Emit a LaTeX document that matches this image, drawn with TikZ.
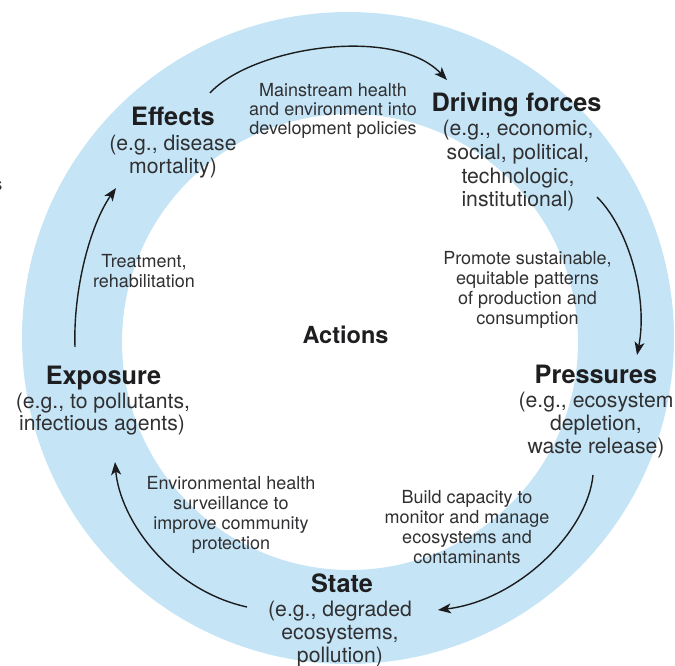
\documentclass[tikz,border=0pt]{standalone}
\usepackage{fontspec}
\setmainfont{TeX Gyre Heros}
\usetikzlibrary{arrows.meta}
\definecolor{ringblue}{RGB}{197,229,246}
\definecolor{titlecol}{RGB}{30,30,32}
\definecolor{textcol}{RGB}{48,48,50}
\definecolor{arrowcol}{RGB}{28,28,30}
\tikzset{
  titletxt/.style={font=\bfseries\fontsize{25.3}{28}\selectfont, text=titlecol, inner sep=0pt, anchor=base},
  desctxt/.style={font=\fontsize{21.2}{23}\selectfont, text=textcol, inner sep=0pt, anchor=base},
  acttxt/.style={font=\fontsize{18}{20}\selectfont, text=textcol, inner sep=0pt, anchor=base},
  cyclearrow/.style={draw=arrowcol, line width=1.4pt, -{Stealth[length=13pt,width=10pt,inset=3.5pt]}}
}
\begin{document}
\begin{tikzpicture}[x=1pt,y=-1pt]
\useasboundingbox (0,0) rectangle (675,666);
% ring
\fill[ringblue, even odd rule] (348,338) circle[radius=326pt] (350,342) circle[radius=228pt];

% stray fragment at left edge
\node[acttxt, anchor=base east] (frag) at (2.7,190) {s};

% Effects
\node[titletxt] (eff) at (173,126) {Effects};
\node[desctxt] (eff1) at (173,151) {(e.g., disease};
\node[desctxt] (eff2) at (173,174) {mortality)};

% Driving forces
\node[titletxt] (drv) at (516.5,112) {Driving forces};
\node[desctxt] (drv1) at (518,136) {(e.g., economic,};
\node[desctxt] (drv2) at (518,159.5) {social, political,};
\node[desctxt] (drv3) at (518,183) {technologic,};
\node[desctxt] (drv4) at (518,206) {institutional)};

% Pressures
\node[titletxt] (prs) at (596,383) {Pressures};
\node[desctxt] (prs1) at (596,407) {(e.g., ecosystem};
\node[desctxt] (prs2) at (596,430) {depletion,};
\node[desctxt] (prs3) at (596,453) {waste release)};

% State
\node[titletxt] (sta) at (342,592) {State};
\node[desctxt] (sta1) at (340,616) {(e.g., degraded};
\node[desctxt] (sta2) at (340,639) {ecosystems,};
\node[desctxt] (sta3) at (340,662) {pollution)};

% Exposure
\node[titletxt] (exp) at (103.5,384) {Exposure};
\node[desctxt] (exp1) at (103,408) {(e.g., to pollutants,};
\node[desctxt] (exp2) at (102,430) {infectious agents)};

% Actions
\node[titletxt, font=\bfseries\fontsize{23.5}{26}\selectfont] (act) at (345.5,343) {Actions};

% action labels
\node[acttxt] (ma1) at (333,96.5) {Mainstream health};
\node[acttxt] (ma2) at (333,116) {and environment into};
\node[acttxt] (ma3) at (333,135) {development policies};

\node[acttxt] (pr1) at (527.5,264) {Promote sustainable,};
\node[acttxt] (pr2) at (527.5,284) {equitable patterns};
\node[acttxt] (pr3) at (527.5,304) {of production and};
\node[acttxt] (pr4) at (527.5,324) {consumption};

\node[acttxt] (bu1) at (467,503.3) {Build capacity to};
\node[acttxt] (bu2) at (467,523) {monitor and manage};
\node[acttxt] (bu3) at (467,543) {ecosystems and};
\node[acttxt] (bu4) at (467,563) {contaminants};

\node[acttxt] (en1) at (231,489) {Environmental health};
\node[acttxt] (en2) at (231,509.3) {surveillance to};
\node[acttxt] (en3) at (231,529.3) {improve community};
\node[acttxt] (en4) at (231,549.3) {protection};

\node[acttxt] (tr1) at (144,267.3) {Treatment,};
\node[acttxt] (tr2) at (144,287.3) {rehabilitation};

% arrow end points
\coordinate (effOut) at (210,93);
\coordinate (drvIn) at (447,80);
\coordinate (drvOut) at (597,197);
\coordinate (prsIn) at (637,355);
\coordinate (prsOut) at (593,475);
\coordinate (staIn) at (438,610);
\coordinate (staOut) at (247,607);
\coordinate (expIn) at (115,462);
\coordinate (expOut) at (75,347);
\coordinate (effIn) at (116,188);

% arrows
\draw[cyclearrow] (effOut) .. controls (252,47) and (395,25) .. (drvIn);
\draw[cyclearrow] (drvOut) .. controls (630,230) and (648,300) .. (prsIn);
\draw[cyclearrow] (prsOut) .. controls (588,530) and (520,600) .. (staIn);
\draw[cyclearrow] (staOut) .. controls (170,590) and (120,520) .. (expIn);
\draw[cyclearrow] (expOut) .. controls (73,290) and (90,225) .. (effIn);
\end{tikzpicture}
\end{document}
